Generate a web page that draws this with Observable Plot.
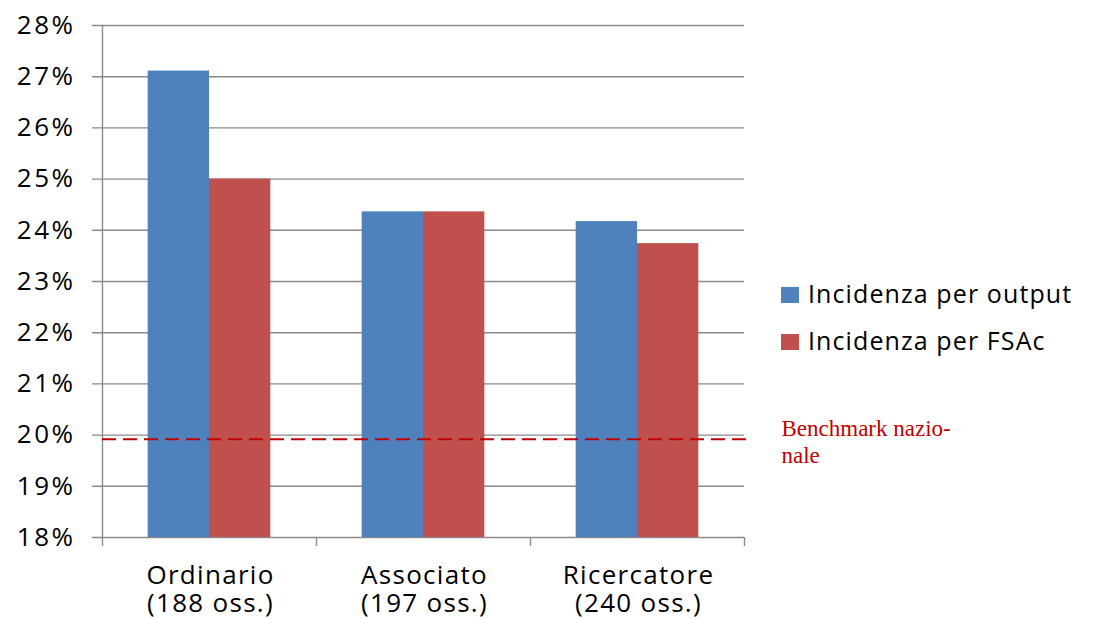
<!DOCTYPE html>
<html>
<head>
<meta charset="utf-8">
<script src="https://cdn.jsdelivr.net/npm/d3@7"></script>
<script src="https://cdn.jsdelivr.net/npm/@observablehq/plot@0.6"></script>
<style>
  body { margin: 0; background: #fff; }
  #chart { position: relative; width: 1095px; height: 619px; font-family: "Open Sans", sans-serif; }
  #chart svg text { letter-spacing: 1.3px; }
  #chart svg g[aria-label="y-axis tick label"] text { letter-spacing: 2.5px; }
  #chart svg g[font-family*="Serif"] text { letter-spacing: 0; }
  .legend-item { position: absolute; left: 781px; font-size: 25px; line-height: 30px; letter-spacing: 1.1px; color: #000; white-space: nowrap; }
  .legend-item .swatch { display: inline-block; width: 18px; height: 16px; margin-right: 9px; vertical-align: baseline; }
</style>
</head>
<body>
<div id="chart"></div>
<script>
// Academic staff categories and number of observations per category
const categories = ["Ordinario", "Associato", "Ricercatore"];
const observations = [188, 197, 240];

// Series names and colours
const series = ["Incidenza per output", "Incidenza per FSAc"];
const seriesColors = ["#4f81bd", "#c0504d"];

// Incidence values (%) per category
const outputValues = [27.11, 24.36, 24.17];
const fsacValues = [25.00, 24.36, 23.74];

// National benchmark (%)
const benchmark = 19.92;
const benchmarkLabel = "Benchmark nazio-\nnale";

// Y axis ticks (%)
const yTicks = [18, 19, 20, 21, 22, 23, 24, 25, 26, 27, 28];

const rows = categories.flatMap((category, i) => [
  { category, i, s: 0, series: series[0], value: outputValues[i] },
  { category, i, s: 1, series: series[1], value: fsacValues[i] }
]);

// Each category occupies one unit on x; the pair of bars is centred in it
const groupPad = 0.2135;
const barW = (1 - 2 * groupPad) / 2;
const yMin = yTicks[0];
const gridColor = "#8a8a8a";

const chart = Plot.plot({
  width: 1095,
  height: 619,
  marginLeft: 102,
  marginRight: 351,
  marginTop: 25,
  marginBottom: 82,
  x: { domain: [0, categories.length], axis: null },
  y: { domain: [yMin, yTicks[yTicks.length - 1]], axis: null },
  color: { domain: series, range: seriesColors },
  style: { fontFamily: "'Open Sans', sans-serif", fontSize: "26px", color: "#000", background: "#fff", overflow: "visible" },
  marks: [
    // horizontal gridlines, extended left as tick marks
    Plot.ruleY(yTicks, { stroke: gridColor, strokeWidth: 1.4, insetLeft: -10 }),
    // vertical axis line
    Plot.ruleX([0], { stroke: gridColor, strokeWidth: 1.4 }),
    // category boundary ticks below the x axis
    Plot.ruleX(d3.range(categories.length + 1), { y1: yMin, y2: yMin, insetBottom: -9, stroke: gridColor, strokeWidth: 1.4 }),
    // bars
    Plot.rectY(rows, {
      x1: d => d.i + groupPad + d.s * barW,
      x2: d => d.i + groupPad + (d.s + 1) * barW,
      y1: yMin,
      y2: "value",
      fill: "series"
    }),
    // national benchmark line
    Plot.ruleY([benchmark], { stroke: "#c00000", strokeWidth: 2, strokeDasharray: "14,7", insetRight: -4 }),
    Plot.text([benchmarkLabel], {
      x: categories.length,
      y: benchmark,
      text: d => d,
      textAnchor: "start",
      lineAnchor: "top",
      dx: 37,
      dy: -23,
      lineHeight: 1.2,
      fontFamily: "'Liberation Serif', 'Times New Roman', serif",
      fontSize: 23,
      fill: "#c00000"
    }),
    // y tick labels
    Plot.axisY({ ticks: yTicks, tickSize: 0, tickPadding: 27, tickFormat: d => d + "%", fontSize: 26, label: null }),
    // category labels
    Plot.text(categories, {
      x: (d, i) => i + 0.5,
      y: yMin,
      text: (d, i) => `${d}\n(${observations[i]} oss.)`,
      lineAnchor: "top",
      dx: 1,
      dy: 26,
      lineHeight: 1.1,
      fontSize: 26,
      fill: "#000"
    })
  ]
});

const root = document.getElementById("chart");
root.appendChild(chart);

// legend
series.forEach((name, k) => {
  const item = document.createElement("div");
  item.className = "legend-item";
  item.style.top = (278 + k * 47) + "px";
  const sw = document.createElement("span");
  sw.className = "swatch";
  sw.style.background = seriesColors[k];
  item.appendChild(sw);
  item.appendChild(document.createTextNode(name));
  root.appendChild(item);
});
</script>
</body>
</html>
